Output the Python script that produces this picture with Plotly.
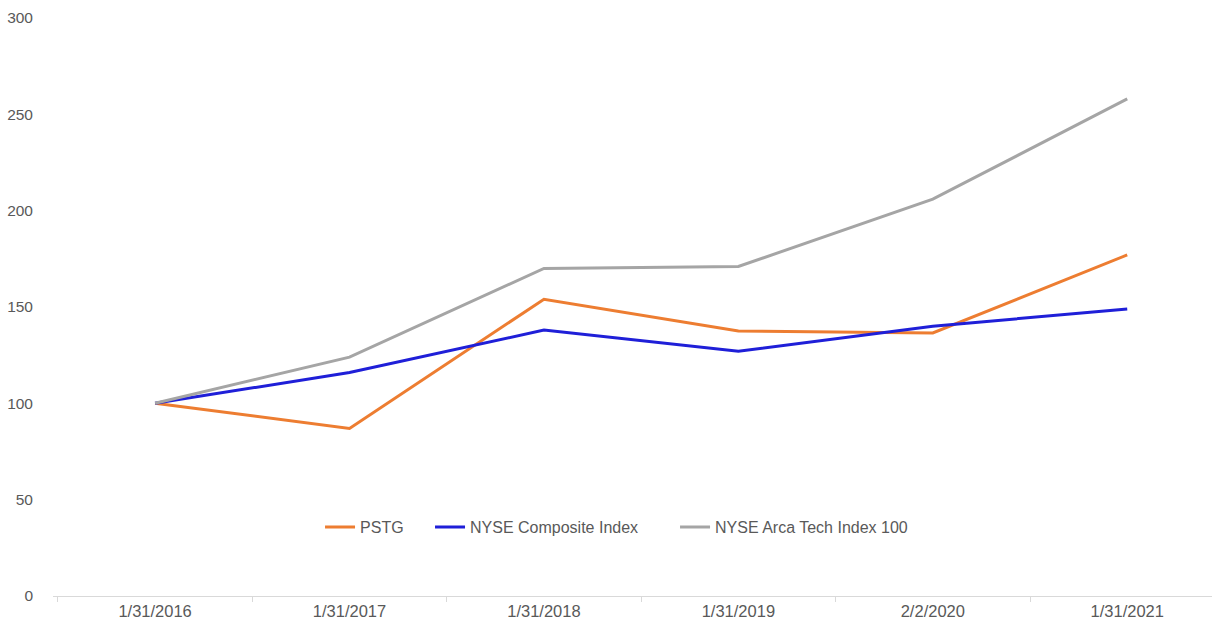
import plotly.graph_objects as go

dates = ["1/31/2016", "1/31/2017", "1/31/2018", "1/31/2019", "2/2/2020", "1/31/2021"]
pstg = [100, 87, 154, 137.5, 136.5, 177]
nyse = [100, 116, 138, 127, 140, 149]
arca = [100, 124, 170, 171, 206, 258]

series = [
    ("PSTG", pstg, "#ED7D31", "legend", 0.2304),
    ("NYSE Composite Index", nyse, "#1F1FD8", "legend2", 0.3253),
    ("NYSE Arca Tech Index 100", arca, "#A5A5A5", "legend3", 0.5367),
]

fig = go.Figure()
for name, vals, color, leg, _ in series:
    fig.add_trace(go.Scatter(x=dates, y=vals, name=name, mode="lines", legend=leg,
                             line=dict(color=color, width=3)))

font_family = "Liberation Sans, Arial"
legends = {}
for name, vals, color, leg, lx in series:
    legends[leg] = dict(orientation="h", x=lx, xanchor="left", y=0.119, yanchor="middle",
                        font=dict(size=16, color="#595959"), bgcolor="rgba(0,0,0,0)")

fig.update_layout(
    width=1212, height=631,
    margin=dict(l=53, r=0, t=18, b=35),
    paper_bgcolor="white", plot_bgcolor="white",
    font=dict(family=font_family, size=15, color="#595959"),
    xaxis=dict(type="category", range=[-0.525, 5.436], showgrid=False,
               showline=True, linecolor="#D9D9D9", linewidth=1,
               ticks="outside", tickson="boundaries", ticklen=5, tickcolor="#D9D9D9",
               tickfont=dict(size=16.5, color="#595959")),
    yaxis=dict(range=[0, 300], dtick=50, showgrid=False, zeroline=False,
               showline=False, ticks="", ticklabelstandoff=19,
               tickfont=dict(size=15.5, color="#595959")),
    showlegend=True,
    **legends,
)

fig.write_html("out.html")
